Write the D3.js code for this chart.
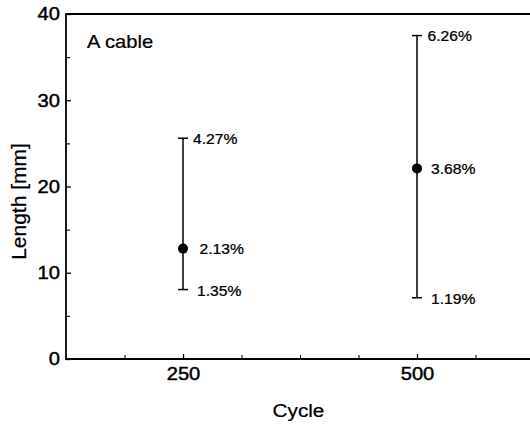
<!DOCTYPE html>
<html>
<head>
<meta charset="utf-8">
<script src="https://cdn.jsdelivr.net/npm/d3@7"></script>
<style>
  body { margin: 0; background: #fff; }
  svg { display: block; font-family: "Liberation Sans", Arial, sans-serif; }
  /* the scanned original has heavy glyphs */
  svg text { stroke: #000; stroke-width: 0.25px; fill: #000; }
  svg .tick text { stroke-width: 0.45px; }
</style>
</head>
<body>
<svg width="530" height="425"></svg>
<script>
// data
const cycles = [250, 500];
const meanLen = [12.8, 22.1];
const upperLen = [25.6, 37.5];
const lowerLen = [8.05, 7.1];
const meanLbl = ["2.13%", "3.68%"];
const upperLbl = ["4.27%", "6.26%"];
const lowerLbl = ["1.35%", "1.19%"];
const yTicks = [0, 10, 20, 30, 40];
const yMinor = [5, 15, 25, 35];
const xTicks = [250, 500];
const xMinor = [187.5, 312.5, 375, 437.5, 562.5];

// the scan is a bit wider than tall, so horizontal text is stretched
const sx = 1.12;

let margin = {top: 14, right: -4, bottom: 66, left: 66};
let width = 530 - margin.left - margin.right;
let height = 425 - margin.top - margin.bottom;

let svg = d3.select("svg")
  .append("g")
  .attr("transform", "translate(" + margin.left + "," + margin.top + ")");

let x = d3.scaleLinear().domain([125, 625]).range([0, width]);
let y = d3.scaleLinear().domain([0, 40]).range([height, 0]);

// frame (top + left + bottom)
svg.append("path")
  .attr("d", "M" + width + ",0H0V" + height + "H" + width)
  .attr("fill", "none")
  .attr("stroke", "#000")
  .attr("stroke-width", 1.8);

function styleTicks(g, pad, isY) {
  g.select(".domain").remove();
  g.selectAll("line").attr("stroke-width", 1.3);
  g.selectAll("text")
    .attr("font-size", 18)
    .attr("font-family", "Liberation Sans, Arial, sans-serif")
    .attr("transform", "scale(" + sx + ",1)");
  if (isY) g.selectAll("text").attr("x", -pad / sx);
}

// y axis, ticks inside
svg.append("g")
  .call(d3.axisLeft(y).tickValues(yTicks).tickSize(-5).tickPadding(6))
  .call(g => styleTicks(g, 6, true));
svg.append("g")
  .call(d3.axisLeft(y).tickValues(yMinor).tickSize(-4).tickFormat(""))
  .call(g => g.select(".domain").remove())
  .selectAll("line").attr("stroke-width", 1.1);

// x axis, ticks inside
svg.append("g")
  .attr("transform", "translate(0," + height + ")")
  .call(d3.axisBottom(x).tickValues(xTicks).tickSize(-5).tickPadding(8))
  .call(g => styleTicks(g, 8, false));
svg.append("g")
  .attr("transform", "translate(0," + height + ")")
  .call(d3.axisBottom(x).tickValues(xMinor).tickSize(-4).tickFormat(""))
  .call(g => g.select(".domain").remove())
  .selectAll("line").attr("stroke-width", 1.1);

// axis titles
svg.append("text")
  .attr("transform", "translate(" + (-40) + "," + (height / 2 + 15) + ") rotate(-90)")
  .attr("text-anchor", "middle")
  .attr("font-size", 21)
  .text("Length [mm]");

function stretchedText(px, py, str, size, anchor) {
  return svg.append("g")
    .attr("transform", "translate(" + px + "," + py + ") scale(" + sx + ",1)")
    .append("text")
    .attr("text-anchor", anchor || "start")
    .attr("font-size", size)
    .text(str);
}
stretchedText(232.5, 403, "Cycle", 18.5, "middle");
stretchedText(21, 34, "A cable", 18);

// error bars
let grp = svg.selectAll(".pt")
  .data(cycles)
  .enter().append("g").attr("class", "pt");

grp.append("line")
  .attr("x1", d => x(d)).attr("x2", d => x(d))
  .attr("y1", (d, i) => y(upperLen[i])).attr("y2", (d, i) => y(lowerLen[i]))
  .attr("stroke", "#000").attr("stroke-width", 1.5);
grp.append("line")
  .attr("x1", d => x(d) - 5).attr("x2", d => x(d) + 5)
  .attr("y1", (d, i) => y(upperLen[i])).attr("y2", (d, i) => y(upperLen[i]))
  .attr("stroke", "#000").attr("stroke-width", 1.5);
grp.append("line")
  .attr("x1", d => x(d) - 5).attr("x2", d => x(d) + 5)
  .attr("y1", (d, i) => y(lowerLen[i])).attr("y2", (d, i) => y(lowerLen[i]))
  .attr("stroke", "#000").attr("stroke-width", 1.5);
grp.append("circle")
  .attr("cx", d => x(d)).attr("cy", (d, i) => y(meanLen[i]))
  .attr("r", 5).attr("fill", "#000");

// percentage labels
function addLabel(vals, lbls, dx, dy) {
  grp.append("g")
    .attr("transform", (d, i) => "translate(" + (x(d) + dx[i]) + "," + (y(vals[i]) + dy) + ") scale(" + sx + ",1)")
    .append("text")
    .attr("dy", "0.36em")
    .attr("font-size", 14)
    .text((d, i) => lbls[i]);
}
addLabel(upperLen, upperLbl, [10, 10.5], 0.5);
addLabel(meanLen, meanLbl, [16.5, 14], 0.5);
addLabel(lowerLen, lowerLbl, [14, 14], 1);
</script>
</body>
</html>
